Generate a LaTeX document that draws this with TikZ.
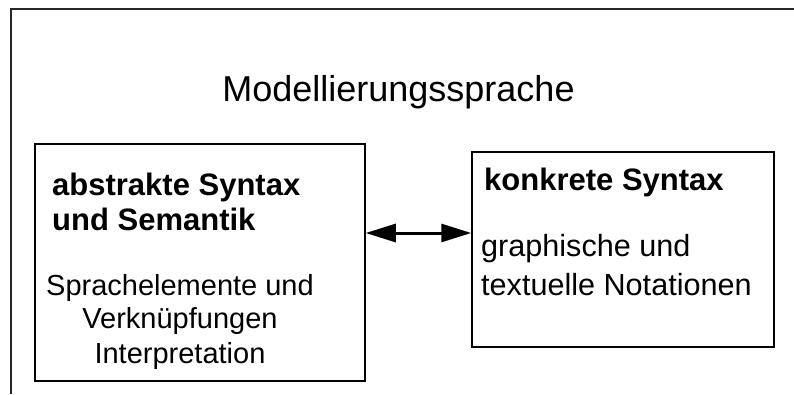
\documentclass[tikz,border=0pt]{standalone}
\usepackage{fontspec}
\setmainfont{Liberation Sans}
\usetikzlibrary{arrows.meta}
\begin{document}
\begin{tikzpicture}[x=1pt,y=-1pt,
  frame/.style={line width=1.8pt,draw=black!85},
  box/.style={draw,line width=1.5pt,inner sep=0pt,rectangle},
  txt/.style={inner sep=0pt,font=\fontsize{29}{34}\selectfont},
  txtr/.style={inner sep=0pt,font=\fontsize{30.6}{36}\selectfont},
  bold/.style={inner sep=0pt,font=\fontsize{31}{35}\selectfont\bfseries},
  conn/.style={line width=3pt,{Triangle[length=30pt,width=18pt]}-{Triangle[length=30pt,width=18pt]}}]
\useasboundingbox (0,0) rectangle (794,394);
\coordinate (fa) at (11,394);
\coordinate (fb) at (11,9);
\coordinate (fc) at (794,9);
\draw[frame] (fa) -- (fb) -- (fc);
\node[inner sep=0pt,anchor=base,font=\fontsize{36}{40}\selectfont] (title) at (398.5,101) {Modellierungssprache};
\node[box,minimum width=330pt,minimum height=237pt] (L) at (200,262.5) {};
\node[box,minimum width=302pt,minimum height=195pt] (R) at (623,249.5) {};
\node[bold,anchor=base west] (l1) at (52,195) {abstrakte Syntax};
\node[bold,anchor=base west] (l2) at (52,230) {und Semantik};
\node[txt,anchor=base] (l3) at (180,295) {Sprachelemente und};
\node[txt,anchor=base] (l4) at (180,328) {Verknüpfungen};
\node[txt,anchor=base] (l5) at (180,363) {Interpretation};
\node[bold,anchor=base west] (r1) at (484,190) {konkrete Syntax};
\node[txtr,anchor=base west] (r2) at (481,256) {graphische und};
\node[txtr,anchor=base west] (r3) at (481,295) {textuelle Notationen};
\coordinate (ay) at (0,233);
\draw[conn] (L.east |- ay) -- (R.west |- ay);
\end{tikzpicture}
\end{document}
